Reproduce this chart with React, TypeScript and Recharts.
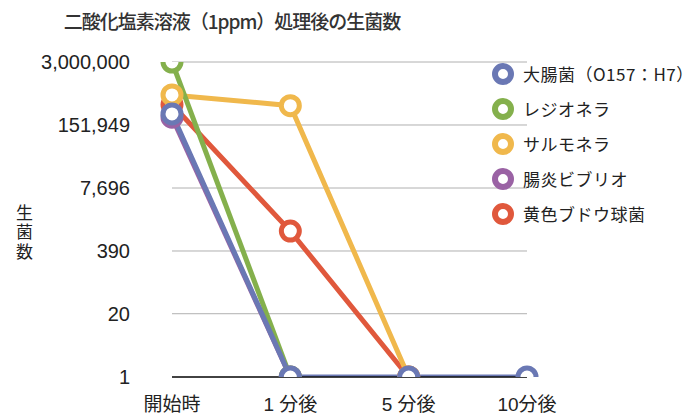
import React from 'react';
import { LineChart, Line, XAxis, YAxis, CartesianGrid } from 'recharts';

const categories = ['開始時', '1 分後', '5 分後', '10分後'];
const ecoli = [257000, 1, 1, 1];
const legionella = [3000000, 1, null, null];
const salmonella = [630000, 380000, 1, null];
const vibrio = [220000, 1, null, null];
const staph = [400000, 1000, 1, null];
const yTicks = [1, 20, 390, 7696, 151949, 3000000];

const seriesInfo = [
  { key: 'ecoli', name: '大腸菌（O157：H7）', color: '#6a78b4', values: ecoli },
  { key: 'legionella', name: 'レジオネラ', color: '#84b04c', values: legionella },
  { key: 'salmonella', name: 'サルモネラ', color: '#f0b84c', values: salmonella },
  { key: 'vibrio', name: '腸炎ビブリオ', color: '#9a62a4', values: vibrio },
  { key: 'staph', name: '黄色ブドウ球菌', color: '#e0583c', values: staph },
];

const data = categories.map((c, i) => {
  const row: any = { name: c };
  seriesInfo.forEach((s) => {
    row[s.key] = s.values[i];
  });
  return row;
});

const drawOrder = ['staph', 'vibrio', 'salmonella', 'legionella', 'ecoli'];
const FONT = '"Liberation Sans", Arial, "Noto Sans CJK JP", sans-serif';

const fmt = (v: number) => v.toLocaleString('en-US');

export default function App() {
  return (
    <div style={{ position: 'absolute', left: 0, top: 0, width: 694, height: 414, background: '#fff', fontFamily: FONT }}>
      <div
        style={{
          position: 'absolute',
          left: 0,
          width: 464,
          top: 6,
          textAlign: 'center',
          fontFamily: '"Noto Sans CJK JP", sans-serif',
          fontSize: 19,
          fontWeight: 500,
          color: '#333',
          lineHeight: '30px',
          letterSpacing: -1,
          whiteSpace: 'nowrap',
        }}
      >
        二酸化塩素溶液（1ppm）処理後の生菌数
      </div>
      <div
        style={{
          position: 'absolute',
          left: 14,
          top: 204,
          width: 20,
          writingMode: 'vertical-rl',
          fontFamily: '"Noto Sans CJK JP", sans-serif',
          fontSize: 17,
          lineHeight: '20px',
          letterSpacing: 2.5,
          color: '#222',
        }}
      >
        生菌数
      </div>
      <LineChart
        width={694}
        height={414}
        data={data}
        margin={{ top: 62, right: 167, bottom: 0, left: 0 }}
        style={{ position: 'absolute', left: 0, top: 0 }}
      >
        <CartesianGrid horizontal={true} vertical={false} stroke="#b0b0b0" strokeWidth={1} />
        <XAxis
          dataKey="name"
          height={37}
          axisLine={{ stroke: '#111', strokeWidth: 1.5 }}
          tickLine={false}
          tickSize={0}
          tickMargin={21}
          interval={0}
          tick={{ fontSize: 19, fill: '#222', fontFamily: FONT }}
        />
        <YAxis
          scale="log"
          domain={[1, 3000000]}
          ticks={yTicks}
          allowDataOverflow
          width={172}
          axisLine={false}
          tickLine={false}
          tickSize={0}
          tickMargin={42}
          tickFormatter={fmt}
          tick={{ fontSize: 20, fill: '#222', fontFamily: FONT }}
        />
        {drawOrder.map((k) => {
          const s = seriesInfo.find((x) => x.key === k)!;
          return (
            <Line
              key={k}
              dataKey={k}
              name={s.name}
              stroke={s.color}
              strokeWidth={5}
              dot={{ r: 9, strokeWidth: 5, fill: '#fff', stroke: s.color }}
              activeDot={false}
              isAnimationActive={false}
              connectNulls={false}
            />
          );
        })}
      </LineChart>
      <div style={{ position: 'absolute', left: 492, top: 56, width: 202 }}>
        {seriesInfo.map((s) => (
          <div key={s.key} style={{ display: 'flex', alignItems: 'center', height: 35 }}>
            <svg width={22} height={22} style={{ marginRight: 9, flexShrink: 0 }}>
              <circle cx={11} cy={11} r={8} fill="#fff" stroke={s.color} strokeWidth={6} />
            </svg>
            <span
              style={{
                fontFamily: '"Noto Sans CJK JP", sans-serif',
                fontSize: 17,
                letterSpacing: 0.5,
                color: '#222',
                whiteSpace: 'nowrap',
              }}
            >
              {s.name}
            </span>
          </div>
        ))}
      </div>
    </div>
  );
}
